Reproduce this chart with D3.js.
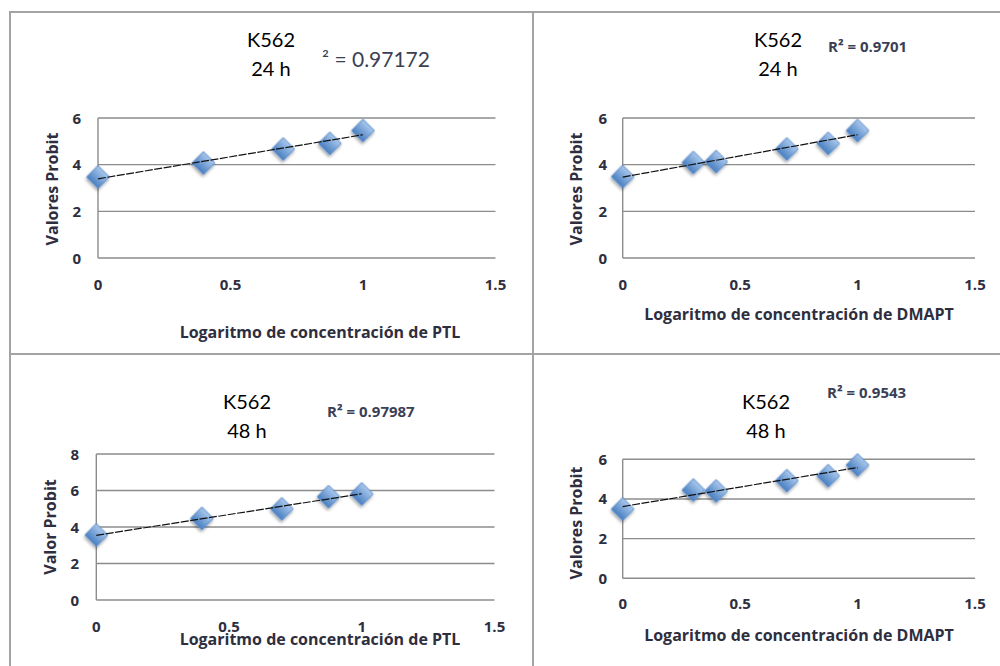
<!DOCTYPE html>
<html><head><meta charset="utf-8">
<script src="https://cdn.jsdelivr.net/npm/d3@7"></script>
<style>html,body{margin:0;padding:0;background:#fff;}svg{display:block;}</style>
</head><body>
<svg id="c" width="1000" height="666"></svg>
<script>
// ---- data ----
const xPTL = [0, 0.398, 0.699, 0.875, 1];
const xDMAPT = [0, 0.301, 0.398, 0.699, 0.875, 1];
const yPTL24 = [3.47, 4.07, 4.67, 4.91, 5.46];
const yDMAPT24 = [3.49, 4.09, 4.13, 4.67, 4.91, 5.46];
const yPTL48 = [3.56, 4.47, 4.99, 5.66, 5.81];
const yDMAPT48 = [3.49, 4.45, 4.40, 4.92, 5.17, 5.71];
const xTicks = [0, 0.5, 1, 1.5];
const yTicks6 = [0, 2, 4, 6];
const yTicks8 = [0, 2, 4, 6, 8];
const titles = ["K562|24 h", "K562|24 h", "K562|48 h", "K562|48 h"];
const r2Labels = ["² = 0.97172", "R² = 0.9701", "R² = 0.97987", "R² = 0.9543"];
const xTitles = ["Logaritmo de concentración de PTL", "Logaritmo de concentración de DMAPT",
                 "Logaritmo de concentración de PTL", "Logaritmo de concentración de DMAPT"];
const yTitles = ["Valores Probit", "Valores Probit", "Valor Probit", "Valores Probit"];

// ---- layout ----
const panels = [
  {xs:xPTL, ys:yPTL24, yt:yTicks6, xr:[98,495.5], yr:[258,118], tickY:290, ytRight:81, yTitleX:58, yTitleY:189, xTitleX:320, xTitleY:338,
   tX:271, tY:47, r2X:322, r2Y:67, r2Big:true},
  {xs:xDMAPT, ys:yDMAPT24, yt:yTicks6, xr:[622.7,975], yr:[258,118], tickY:290, ytRight:607, yTitleX:582, yTitleY:189, xTitleX:799, xTitleY:320,
   tX:778, tY:47, r2X:828, r2Y:52, r2Big:false},
  {xs:xPTL, ys:yPTL48, yt:yTicks8, xr:[96.3,494.5], yr:[600,454], tickY:632, ytRight:79, yTitleX:56, yTitleY:527, xTitleX:320, xTitleY:645,
   tX:247, tY:409, r2X:327, r2Y:417, r2Big:false},
  {xs:xDMAPT, ys:yDMAPT48, yt:yTicks6, xr:[622.7,975], yr:[578.3,459.3], tickY:609, ytRight:607, yTitleX:582, yTitleY:523, xTitleX:799, xTitleY:641,
   tX:766, tY:409, r2X:827, r2Y:398, r2Big:false}
];

const svg = d3.select("#c");
const defs = svg.append("defs");
const grad = defs.append("linearGradient").attr("id","dg").attr("x1","0").attr("y1","0").attr("x2","0").attr("y2","1");
grad.append("stop").attr("offset","0%").attr("stop-color","#a9c8ec");
grad.append("stop").attr("offset","100%").attr("stop-color","#4a7fc1");
const flt = defs.append("filter").attr("id","sh").attr("x","-50%").attr("y","-50%").attr("width","200%").attr("height","200%");
flt.append("feDropShadow").attr("dx",1).attr("dy",2).attr("stdDeviation",1.5).attr("flood-color","#000").attr("flood-opacity",0.35);

// table borders
const bc = "#a3a3a3";
svg.append("line").attr("x1",10).attr("y1",12).attr("x2",1000).attr("y2",12).attr("stroke",bc).attr("stroke-width",2);
svg.append("line").attr("x1",10).attr("y1",354).attr("x2",1000).attr("y2",354).attr("stroke",bc).attr("stroke-width",2);
svg.append("line").attr("x1",10).attr("y1",11).attr("x2",10).attr("y2",666).attr("stroke",bc).attr("stroke-width",2);
svg.append("line").attr("x1",533).attr("y1",11).attr("x2",533).attr("y2",666).attr("stroke",bc).attr("stroke-width",2);

const font = "'Open Sans', Lato, sans-serif";
const tfont = "Lato, 'Open Sans', sans-serif";
const txtCol = "#2e2e3e";

panels.forEach((p, i) => {
  const ymax = p.yt[p.yt.length-1];
  const x = d3.scaleLinear().domain([0,1.5]).range(p.xr);
  const y = d3.scaleLinear().domain([0,ymax]).range(p.yr);
  const g = svg.append("g");

  // gridlines
  g.selectAll("line.grid").data(p.yt).join("line")
    .attr("x1", x(0)).attr("x2", x(1.5)).attr("y1", d=>y(d)).attr("y2", d=>y(d))
    .attr("stroke","#8c8c8c").attr("stroke-width",1.4);
  g.append("line").attr("x1",x(0)).attr("x2",x(0)).attr("y1",y(0)).attr("y2",y(ymax))
    .attr("stroke","#8c8c8c").attr("stroke-width",1.4);

  // y tick labels
  g.selectAll("text.yt").data(p.yt).join("text")
    .attr("x", p.ytRight).attr("y", d=>y(d)+5.5).attr("text-anchor","end")
    .attr("font-family",font).attr("font-weight","bold").attr("font-size",15).attr("fill",txtCol)
    .text(d=>d);
  // x tick labels
  g.selectAll("text.xt").data(xTicks).join("text")
    .attr("x", d=>x(d)).attr("y", p.tickY).attr("text-anchor","middle")
    .attr("font-family",font).attr("font-weight","bold").attr("font-size",15).attr("fill",txtCol)
    .text(d=>d);

  // axis titles
  g.append("text").attr("x",p.xTitleX).attr("y",p.xTitleY).attr("text-anchor","middle")
    .attr("font-family",font).attr("font-weight","bold").attr("font-size",16).attr("fill",txtCol)
    .text(xTitles[i]);
  g.append("text").attr("transform",`translate(${p.yTitleX},${p.yTitleY}) rotate(-90)`).attr("text-anchor","middle")
    .attr("font-family",font).attr("font-weight","bold").attr("font-size",16).attr("fill",txtCol)
    .text(yTitles[i]);

  // chart title
  const tl = titles[i].split("|");
  g.append("text").attr("x",p.tX).attr("y",p.tY).attr("text-anchor","middle")
    .attr("font-family",tfont).attr("font-size",20).attr("fill","#000").text(tl[0]);
  g.append("text").attr("x",p.tX).attr("y",p.tY+29).attr("text-anchor","middle")
    .attr("font-family",tfont).attr("font-size",20).attr("fill","#000").text(tl[1]);

  // R² label
  g.append("text").attr("x",p.r2X).attr("y",p.r2Y)
    .attr("font-family", p.r2Big ? tfont : font).attr("font-weight", p.r2Big ? "normal" : "bold")
    .attr("font-size", p.r2Big ? 21 : 15).attr("fill","#3a3f55")
    .text(r2Labels[i]);

  // trendline (least squares)
  const n = p.xs.length;
  const mx = d3.mean(p.xs), my = d3.mean(p.ys);
  let sxy=0, sxx=0;
  for (let k=0;k<n;k++){ sxy += (p.xs[k]-mx)*(p.ys[k]-my); sxx += (p.xs[k]-mx)**2; }
  const b = sxy/sxx, a = my - b*mx;
  const x0 = d3.min(p.xs), x1 = d3.max(p.xs);

  // markers
  const sym = d3.symbol().type(d3.symbolSquare).size(260);
  g.selectAll("path.pt").data(p.xs.map((v,k)=>[v,p.ys[k]])).join("path")
    .attr("d", sym)
    .attr("transform", d=>`translate(${x(d[0])},${y(d[1])}) rotate(45)`)
    .attr("fill","url(#dg)").attr("stroke","#5b8bc9").attr("stroke-width",0.8)
    .attr("filter","url(#sh)");

  g.append("line").attr("x1",x(x0)).attr("y1",y(a+b*x0)).attr("x2",x(x1)).attr("y2",y(a+b*x1))
    .attr("stroke","#111").attr("stroke-width",1.2).attr("stroke-dasharray","8,1.5");
});
</script>
</body></html>
